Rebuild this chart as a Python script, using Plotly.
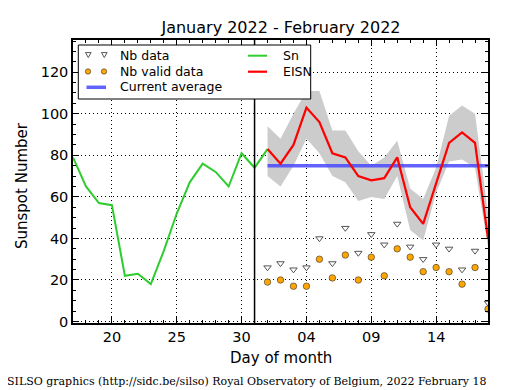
import plotly.graph_objects as go
import pandas as pd

# ---------------- data ----------------
sn_dates = pd.date_range("2022-01-17", "2022-02-01", freq="D")
sn_values = [79, 65, 57, 56, 22, 23, 18, 34, 52, 67, 76, 72, 65, 81, 74, 83]

eisn_dates = pd.date_range("2022-02-01", "2022-02-18", freq="D")
eisn_values = [83, 76, 85, 103, 96, 81, 79, 70, 68, 69, 79, 55, 47, 67, 86, 91, 86, 40]
eisn_upper = [94, 88, 100, 111, 111, 92, 92, 82, 75, 79, 87, 64, 59, 74, 99, 104, 100, 52]
eisn_lower = [70, 65, 75, 88, 81, 70, 67, 58, 60, 59, 70, 44, 39, 62, 77, 78, 74, 36]

nb_data = [26, 28, 25, 26, 40, 28, 45, 33, 42, 37, 47, 36, 30, 37, 35, 25, 34, 9]
nb_valid = [19, 20, 17, 17, 30, 21, 32, 20, 31, 22, 35, 31, 24, 26, 24, 18, 26, 6]

current_average = 75
month_boundary = "2022-01-31"

title_text = "January 2022 - February 2022"
footer_text = "SILSO graphics (http://sidc.be/silso) Royal Observatory of Belgium, 2022 February 18"

# ---------------- layout geometry ----------------
OFF = 8  # page body margin offset
W, H = 515 - OFF, 390 - OFF
ML, MR, MT, MB = 73 - OFF, 27, 40 - OFF, 67
PW, PH = W - ML - MR, H - MT - MB


def px(x):
    return (x - OFF - ML) / PW


def py(y):
    return (H - MB - (y - OFF)) / PH


FONT = "DejaVu Sans, Verdana, sans-serif"

fig = go.Figure()

# uncertainty band
fig.add_trace(go.Scatter(x=eisn_dates, y=eisn_lower, mode="lines",
                         line=dict(width=0, color="rgba(0,0,0,0)"),
                         showlegend=False, hoverinfo="skip"))
fig.add_trace(go.Scatter(x=eisn_dates, y=eisn_upper, mode="lines",
                         line=dict(width=0, color="rgba(0,0,0,0)"),
                         fill="tonexty", fillcolor="#cccccc",
                         showlegend=False, hoverinfo="skip"))

# current average
fig.add_trace(go.Scatter(x=[eisn_dates[0], eisn_dates[-1]],
                         y=[current_average, current_average], mode="lines",
                         line=dict(color="rgba(70,70,255,0.85)", width=3.5),
                         showlegend=False))

# Sn
fig.add_trace(go.Scatter(x=sn_dates, y=sn_values, mode="lines",
                         line=dict(color="#2ecc2e", width=2), showlegend=False))
# EISN
fig.add_trace(go.Scatter(x=eisn_dates, y=eisn_values, mode="lines",
                         line=dict(color="#ff0000", width=2.2), showlegend=False))

# Nb data
fig.add_trace(go.Scatter(x=eisn_dates, y=nb_data, mode="markers",
                         marker=dict(symbol="triangle-down", size=6.5, color="white",
                                     line=dict(color="#555555", width=1)),
                         showlegend=False))
# Nb valid data
fig.add_trace(go.Scatter(x=eisn_dates, y=nb_valid, mode="markers",
                         marker=dict(symbol="circle", size=6.5, color="#ffa500",
                                     line=dict(color="#333333", width=0.6)),
                         showlegend=False))

shapes = []
# vertical month boundary line
shapes.append(dict(type="line", xref="x", yref="paper", x0=month_boundary, x1=month_boundary,
                   y0=0, y1=1, line=dict(color="black", width=1.5), layer="above"))

# manual legend
shapes.append(dict(type="rect", xref="paper", yref="paper",
                   x0=px(78.3), x1=px(310.7), y0=py(99), y1=py(45),
                   fillcolor="white", line=dict(color="black", width=1), layer="above"))
for cx in (88.3, 104.3):
    cy = 55
    shapes.append(dict(type="path", xref="paper", yref="paper",
                       path=f"M {px(cx-2.8)},{py(cy-2.4)} L {px(cx+2.8)},{py(cy-2.4)} L {px(cx)},{py(cy+2.6)} Z",
                       fillcolor="white", line=dict(color="#555555", width=1), layer="above"))
for cx in (88.0, 104.0):
    cy = 71.5
    shapes.append(dict(type="circle", xref="paper", yref="paper",
                       x0=px(cx-2.7), x1=px(cx+2.7), y0=py(cy+2.7), y1=py(cy-2.7),
                       fillcolor="#ffa500", line=dict(color="#333333", width=0.6), layer="above"))
shapes.append(dict(type="line", xref="paper", yref="paper", x0=px(86.5), x1=px(106), y0=py(87.3), y1=py(87.3),
                   line=dict(color="rgba(70,70,255,0.85)", width=3.5), layer="above"))
shapes.append(dict(type="line", xref="paper", yref="paper", x0=px(248), x1=px(267), y0=py(55.7), y1=py(55.7),
                   line=dict(color="#2ecc2e", width=2), layer="above"))
shapes.append(dict(type="line", xref="paper", yref="paper", x0=px(248), x1=px(267), y0=py(71.7), y1=py(71.7),
                   line=dict(color="#ff0000", width=2.2), layer="above"))

annotations = []
leg_font = dict(family=FONT, size=12.5, color="black")
for txt, x, y in [("Nb data", 118.3, 55), ("Nb valid data", 118.3, 71), ("Current average", 118.3, 86),
                  ("Sn", 280.5, 55.5), ("EISN", 280.5, 71)]:
    annotations.append(dict(text=txt, xref="paper", yref="paper", x=px(x), y=py(y),
                            xanchor="left", yanchor="middle", showarrow=False, font=leg_font))

# axis titles
annotations.append(dict(text="Day of month", xref="paper", yref="paper", x=px(281), y=py(358),
                        xanchor="center", yanchor="middle", showarrow=False,
                        font=dict(family=FONT, size=15, color="black")))
annotations.append(dict(text="Sunspot Number", xref="paper", yref="paper", x=px(22), y=py(186),
                        xanchor="center", yanchor="middle", showarrow=False, textangle=-90,
                        font=dict(family=FONT, size=15, color="black")))
# footer
annotations.append(dict(text=footer_text, xref="paper", yref="paper", x=px(5), y=py(381),
                        xanchor="left", yanchor="middle", showarrow=False,
                        font=dict(family="DejaVu Serif, serif", size=11, color="black")))

DAY = 86400000

fig.update_layout(
    width=W, height=H,
    margin=dict(l=ML, r=MR, t=MT, b=MB, pad=0),
    paper_bgcolor="white", plot_bgcolor="white",
    showlegend=False,
    title=dict(text=title_text, x=px(281), xref="paper", xanchor="center",
               y=1 - (27 - OFF) / H, yref="container", yanchor="middle",
               font=dict(family=FONT, size=16, color="black")),
    shapes=shapes,
    annotations=annotations,
    font=dict(family=FONT, color="black"),
)

fig.update_xaxes(
    type="date",
    range=["2022-01-17", "2022-02-18"],
    tick0="2022-01-20", dtick=5 * DAY, tickformat="%d",
    ticks="inside", ticklen=6, tickwidth=1, tickcolor="black",
    minor=dict(dtick=DAY, tick0="2022-01-20", ticks="inside", ticklen=3, tickcolor="black", showgrid=False),
    showline=True, linecolor="black", linewidth=1.5, mirror="allticks",
    showgrid=True, gridcolor="black", griddash="1px,3px", gridwidth=1,
    tickfont=dict(family=FONT, size=14.5, color="black"),
    zeroline=False,
)
fig.update_yaxes(
    range=[-0.7, 135.5],
    tick0=0, dtick=20,
    ticks="inside", ticklen=6, tickwidth=1, tickcolor="black",
    minor=dict(dtick=5, ticks="inside", ticklen=3, tickcolor="black", showgrid=False),
    showline=True, linecolor="black", linewidth=1.5, mirror="allticks",
    showgrid=True, gridcolor="black", griddash="1px,3px", gridwidth=1,
    tickfont=dict(family=FONT, size=14.5, color="black"),
    zeroline=False,
)

fig.write_html("out.html")
